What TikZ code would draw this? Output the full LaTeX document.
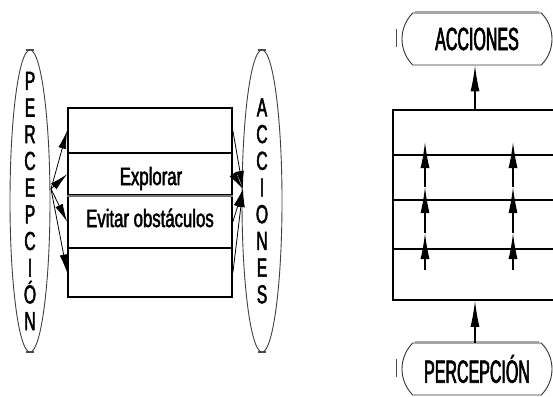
\documentclass[tikz,border=0pt]{standalone}
\usepackage{fontspec}
\setmainfont[FakeStretch=0.67,FakeBold=2]{Liberation Sans}
\newfontfamily\narrowsf[FakeStretch=0.5,FakeBold=2]{Liberation Sans}
\newfontfamily\columnsf[FakeStretch=0.6,FakeBold=2]{Liberation Sans}
\usetikzlibrary{positioning,arrows.meta,shapes.geometric,shapes.misc}

\begin{document}
\begin{tikzpicture}[x=1pt,y=-1pt,
    layer/.style={draw,line width=1.8pt,minimum width=164pt,inner sep=0pt},
    column/.style={ellipse,draw=black!75,line width=0.9pt,inner sep=0pt,
      minimum width=40pt,minimum height=302pt},
    coltext/.style={align=center,inner sep=0pt,
      font=\columnsf\fontsize{26}{26.7}\selectfont},
    term/.style={rounded rectangle,rounded rectangle arc length=90,
      draw=black!80,line width=0.9pt,minimum width=150pt,minimum height=52pt,
      inner sep=0pt,font=\narrowsf\fontsize{32}{32}\selectfont},
    arr/.style={-{Latex[length=18pt,width=8pt]},line width=0.8pt},
    uparr/.style={-{Latex[length=26pt,width=9pt]},line width=1.2pt},
    tick/.style={line width=2pt,black!70},
    lbl/.style={anchor=base,font=\fontsize{25}{25}\selectfont}]
    \useasboundingbox (0,0) rectangle (553,396);
    \clip (0,0) rectangle (553,396);

    % horizontal layers
    \node[column] (perc) at (30,201) {};
    \node[column] (acc) at (262,201) {};
    \node[coltext] (perctext) at (perc.center) {P\\E\\R\\C\\E\\P\\C\\I\\Ó\\N};
    \node[coltext] (acctext) at (acc.center) {A\\C\\C\\I\\O\\N\\E\\S};
    \draw[tick] ([xshift=-4pt]perc.north) -- ([xshift=4pt]perc.north);
    \draw[tick] ([xshift=-4pt]perc.south) -- ([xshift=4pt]perc.south);
    \draw[tick] ([xshift=-4pt]acc.north) -- ([xshift=4pt]acc.north);
    \draw[tick] ([xshift=-4pt]acc.south) -- ([xshift=4pt]acc.south);

    \node[layer,minimum height=45pt] (l1) at (150,130.8) {};
    \node[layer,minimum height=41.7pt] (l2) at (150,174.2) {};
    \node[layer,minimum height=53.3pt] (l3) at (150,221.7) {};
    \node[layer,minimum height=48.3pt] (l4) at (150,272.5) {};
    \draw[black!55,line width=1.8pt] (l2.south west) -- (l2.south east);
    \node[lbl] (explorar) at (151,185) {Explorar};
    \node[lbl] (evitar) at (150,227) {Evitar obstáculos};

    \coordinate (pin) at (51,189);
    \coordinate (pout) at (243,189);
    \foreach \n in {1,...,4} {
      \draw[arr] (pin) -- (l\n.west);
      \draw[arr] (l\n.east) -- (pout);
    }

    % vertical layers
    \node[layer,minimum height=45pt] (r1) at (475,132.5) {};
    \node[layer,minimum height=45pt] (r2) at (475,177.5) {};
    \node[layer,minimum height=49.3pt] (r3) at (475,224.6) {};
    \node[layer,minimum height=50.7pt] (r4) at (475,274.6) {};

    \node[term] (acts) at (477,39) {ACCIONES};
    \node[term] (senses) at (477,369) {PERCEPCIÓN};
    \foreach \t in {acts,senses} {
      \draw[black!35,line width=3pt] ([xshift=-62pt]\t.north) -- ([xshift=62pt]\t.north);
      \draw[tick,line width=1.5pt] ([xshift=-5pt,yshift=10pt]\t.west) -- ([xshift=-5pt,yshift=-8pt]\t.west);
    }

    \draw[uparr] (r1.north) -- (r1.north |- acts.south);
    \draw[uparr] (r4.south |- senses.north) -- (r4.south);

    \foreach \c/\x in {a/425,b/513} {
      \coordinate (\c0) at (\x,270);
      \coordinate (\c1) at (\x,233);
      \coordinate (\c2) at (\x,187);
      \coordinate (\c3) at (\x,142);
      \draw[uparr] (\c0) -- (\c1);
      \draw[uparr] (\c1) -- (\c2);
      \draw[uparr] (\c2) -- (\c3);
    }
  \end{tikzpicture}
\end{document}
